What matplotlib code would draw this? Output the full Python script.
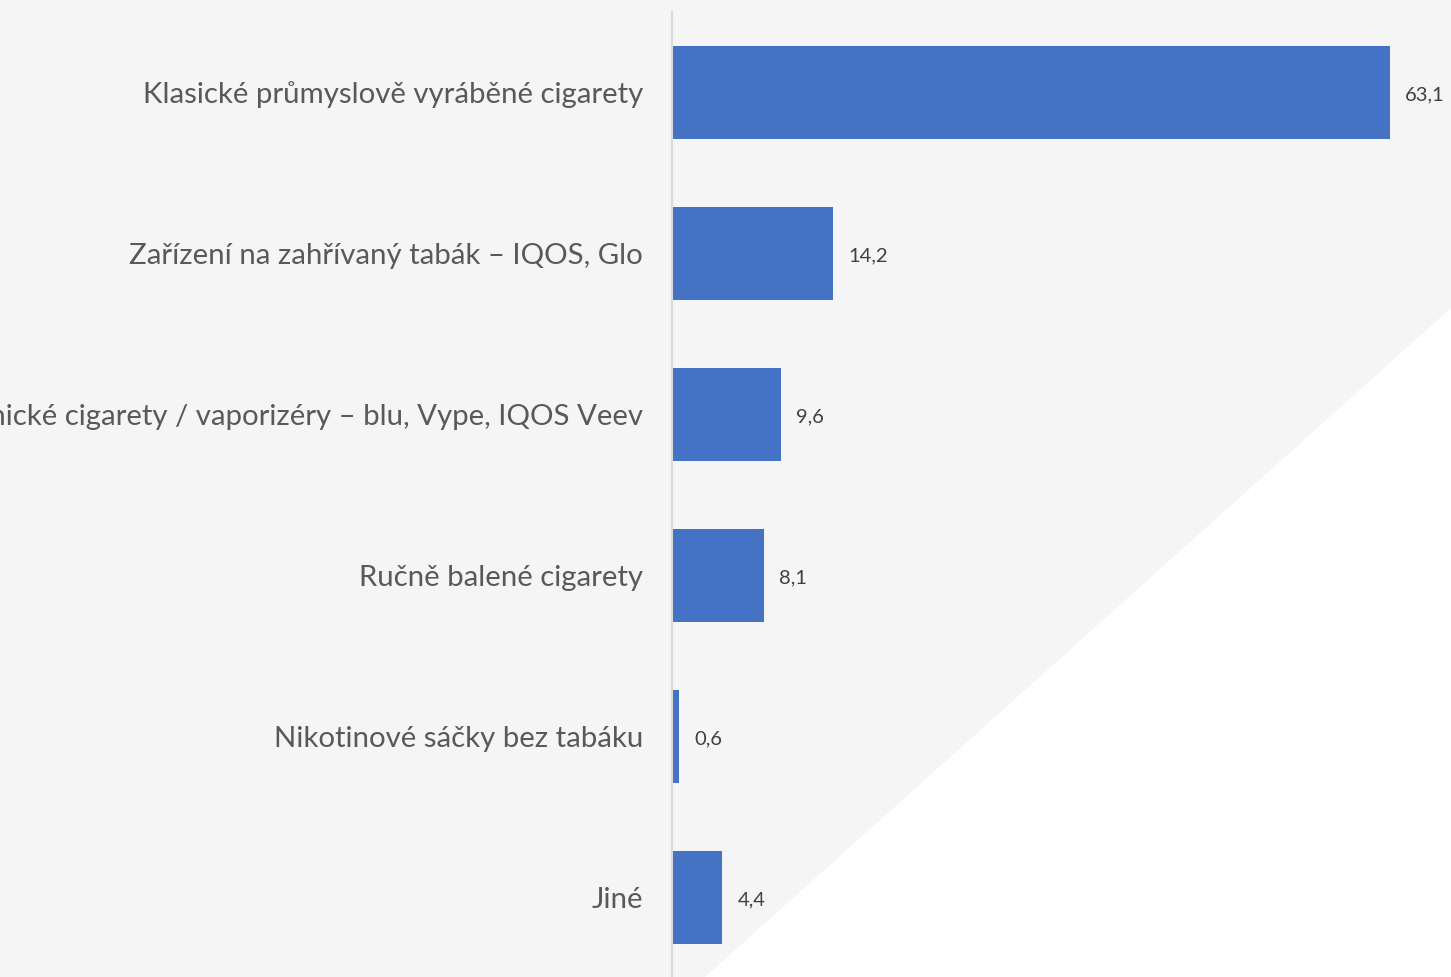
import matplotlib.pyplot as plt
from matplotlib.patches import Polygon

categories = [
    "Klasické průmyslově vyráběné cigarety",
    "Zařízení na zahřívaný tabák – IQOS, Glo",
    "Elektronické cigarety / vaporizéry – blu, Vype, IQOS Veev",
    "Ručně balené cigarety",
    "Nikotinové sáčky bez tabáku",
    "Jiné",
]
values = [63.1, 14.2, 9.6, 8.1, 0.6, 4.4]
value_labels = ["63,1", "14,2", "9,6", "8,1", "0,6", "4,4"]

plt.rcParams['font.family'] = ['Lato', 'DejaVu Sans']

fig = plt.figure(figsize=(14.51, 9.77), dpi=100)
fig.patch.set_facecolor('#f5f5f5')

# white corner bottom right
corner = Polygon([(1.0, 1 - 308 / 977), (1.0, 0.0), (705 / 1451, 0.0)],
                 closed=True, transform=fig.transFigure, facecolor='white',
                 edgecolor='none', zorder=0)
fig.patches.append(corner)

ax = fig.add_axes([672 / 1451, -1 / 977, 1 - 672 / 1451, 1 - 11 / 977])
ax.patch.set_alpha(0)

y = list(range(len(categories)))
ax.barh(y, values, height=0.576, color='#4472C4', zorder=2)

for yi, v, lab in zip(y, values, value_labels):
    ax.annotate(lab, (v, yi), xytext=(11, -2), textcoords='offset points',
                ha='left', va='center', fontsize=14.5, color='#404040')

ax.set_yticks(y)
ax.set_yticklabels(categories, fontsize=21.2, color='#595959')
ax.tick_params(axis='y', length=0, pad=21)
ax.set_xticks([])
ax.set_xlim(0, 68.5)
ax.set_ylim(5.5, -0.5)

for s in ['top', 'right', 'bottom']:
    ax.spines[s].set_visible(False)
ax.spines['left'].set_color('#d9d9d9')
ax.spines['left'].set_linewidth(1.5)

fig.savefig('out.png', dpi=100, facecolor=fig.get_facecolor())
